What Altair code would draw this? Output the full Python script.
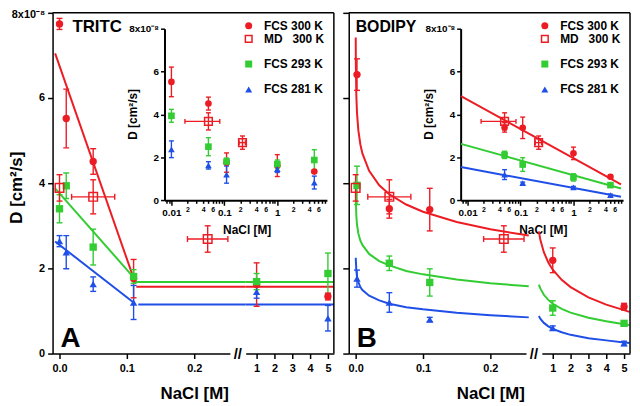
import json
import altair as alt
import pandas as pd

RED = "#ec1c24"
GREEN = "#33cc33"
BLUE = "#1f4fe6"
FONT = "Liberation Sans"

# ---------------- data ----------------
SERIES = ["FCS 300 K", "FCS 293 K", "FCS 281 K"]
LEGEND_LABELS = ["FCS 300 K", "MD\u00a0\u00a0\u00a0300 K", "FCS 293 K", "FCS 281 K"]
PANEL_NAMES = ["TRITC", "BODIPY"]
PANEL_LETTERS = ["A", "B"]

# Panel A (TRITC), D in 1e-8 cm^2/s
A_X = [0.0, 0.01, 0.05, 0.11, 1.0, 5.0]
A_RED = [7.74, 5.52, 4.51, 1.76, 1.62, 1.34]
A_RED_ERR = [0.13, 0.69, 0.30, 0.45, 0.51, 0.08]
A_GREEN = [3.40, 3.94, 2.50, 1.81, 1.69, 1.88]
A_GREEN_ERR = [0.33, 0.30, 0.42, 0.16, 0.19, 0.48]
A_BLUE = [2.64, 2.38, 1.63, 1.20, 1.45, 0.83]
A_BLUE_ERR = [0.13, 0.39, 0.17, 0.40, 0.15, 0.30]
A_FIT_X = [-0.0065, 0.11]
A_FIT_RED = [7.05, 1.77]
A_FIT_GREEN = [3.88, 1.79]
A_FIT_BLUE = [2.63, 1.20]
A_PLATEAU_START = [0.114, 0.109, 0.117]
A_PLATEAU_LEVEL = [1.57, 1.68, 1.15]

# Panel B (BODIPY)
B_X = [0.002, 0.05, 0.11, 1.0, 5.0]
B_RED = [6.55, 3.40, 3.38, 2.19, 1.10]
B_RED_ERR = [0.37, 0.22, 0.50, 0.29, 0.08]
B_GREEN = [3.95, 2.12, 1.67, 1.07, 0.71]
B_GREEN_ERR = [0.45, 0.17, 0.32, 0.17, 0.05]
B_BLUE = [1.76, 1.20, 0.80, 0.60, 0.24]
B_BLUE_ERR = [0.20, 0.23, 0.05, 0.05, 0.05]

B_CURVE_X1 = [0.0001, 0.0003, 0.001, 0.002, 0.004, 0.007, 0.01, 0.02, 0.035, 0.05, 0.075, 0.1, 0.15, 0.2, 0.257]
B_CURVE_RED1 = [7.42, 6.77, 6.06, 5.65, 5.24, 4.91, 4.70, 4.29, 3.95, 3.74, 3.50, 3.33, 3.09, 2.92, 2.77]
B_CURVE_GREEN1 = [3.95, 3.59, 3.23, 3.03, 2.82, 2.65, 2.55, 2.34, 2.17, 2.07, 1.94, 1.86, 1.74, 1.65, 1.58]
B_CURVE_BLUE1 = [2.25, 2.19, 1.95, 1.81, 1.68, 1.56, 1.49, 1.36, 1.25, 1.17, 1.09, 1.04, 0.96, 0.90, 0.85]
B_CURVE_X2 = [0.222, 0.3, 0.5, 0.75, 1.0, 1.5, 2.0, 3.0, 4.0, 5.0, 5.3]
B_CURVE_RED2 = [2.87, 2.68, 2.38, 2.14, 1.97, 1.73, 1.56, 1.32, 1.15, 1.02, 0.98]
B_CURVE_GREEN2 = [1.62, 1.53, 1.38, 1.26, 1.17, 1.05, 0.96, 0.84, 0.76, 0.69, 0.67]
B_CURVE_BLUE2 = [0.88, 0.82, 0.72, 0.64, 0.58, 0.50, 0.44, 0.36, 0.31, 0.26, 0.25]
B_INSET_FIT_X = [0.0075, 7.9]
B_INSET_FIT_RED = [4.86, 0.74]
B_INSET_FIT_GREEN = [2.63, 0.55]
B_INSET_FIT_BLUE = [1.55, 0.17]

# MD 300 K (same in both panels)
MD_X = [0.0, 0.05, 0.22]
MD_Y = [3.89, 3.68, 2.69]
MD_YERR = [0.31, 0.40, 0.31]
MD_XERR = [0.0, 0.032, 0.030]

# tick values / labels
MAIN_Y_TICKS = [0, 2, 4, 6, 8]
SEG1_TICKS = [0.0, 0.1, 0.2]
SEG2_TICKS = [1, 2, 3, 4, 5]
INSET_TICKS = [0.008, 0.009,
               0.01, 0.02, 0.03, 0.04, 0.05, 0.06, 0.07, 0.08, 0.09,
               0.1, 0.2, 0.3, 0.4, 0.5, 0.6, 0.7, 0.8, 0.9,
               1, 2, 3, 4, 5, 6, 7, 8]
INSET_TICK_LABELS = ["", "",
                     "0.01", "2", "", "4", "", "6", "", "", "",
                     "0.1", "2", "", "4", "", "6", "", "", "",
                     "1", "2", "", "4", "", "6", "", ""]
TOP_LABEL = "8x10\u207b\u2078"

# ---------------- layout ----------------
W, H = 583, 344
DX = [0, 299]
X1_ZERO_PX, PX_PER_X1 = 7.0, 680.0
SEG1_PX = (0.0, 179.0)
X2_ONE_PX, PX_PER_X2 = 206.0, 18.0
SEG2_PX = (195.0, 284.0)
INSET_X_PX = (113.0, 277.0)
INSET_XDOM = [0.0074, 8.66]
INSET_Y_PX = [189.3, 16.0]


def seg1_val(px):
    return (px - X1_ZERO_PX) / PX_PER_X1


def seg2_val(px):
    return 1 + (px - X2_ONE_PX) / PX_PER_X2


SEG1_DOM = [seg1_val(SEG1_PX[0]), seg1_val(SEG1_PX[1])]
SEG2_DOM = [seg2_val(SEG2_PX[0]), seg2_val(SEG2_PX[1])]

COLOR = alt.Color("series:N", scale=alt.Scale(domain=SERIES, range=[RED, GREEN, BLUE]), legend=None)
SHAPE = alt.Shape("series:N", scale=alt.Scale(domain=SERIES, range=["circle", "square", "triangle-up"]), legend=None)
Y_MAIN = alt.Scale(domain=[0, 8], range=[H, 0], nice=False, zero=True)
Y_INSET = alt.Scale(domain=[0, 8], range=INSET_Y_PX, nice=False, zero=True)
ONE = pd.DataFrame({"k": [0]})


def points_frame(x, values, errors, keep):
    rows = []
    for name, ys, es in zip(SERIES, values, errors):
        for xi, yi, ei in zip(x, ys, es):
            if keep(xi):
                rows.append(dict(series=name, x=xi, y=yi, lo=yi - ei, hi=yi + ei))
    return pd.DataFrame(rows)


def md_frame(keep):
    rows = []
    for xi, yi, ye, xe in zip(MD_X, MD_Y, MD_YERR, MD_XERR):
        if keep(xi):
            rows.append(dict(x=xi, y=yi, lo=yi - ye, hi=yi + ye, xlo=xi - xe, xhi=xi + xe, xerr=xe))
    return pd.DataFrame(rows)


def lines_frame(parts):
    rows = []
    for series, key, xs, ys in parts:
        for i, (xi, yi) in enumerate(zip(xs, ys)):
            rows.append(dict(series=series, part=f"{series}-{key}", i=i, x=xi, y=yi))
    return pd.DataFrame(rows)


def data_group(xs, ys, xaxis, yaxis, lines=None, pts=None, md=None,
               psize=55, capw=6, mdsize=75, lw=2.0):
    charts = []

    def xy(xf, yf):
        # every layer of a group carries the same axis definition so they merge
        return (alt.X(xf, type="quantitative", scale=xs, axis=xaxis),
                alt.Y(yf, type="quantitative", scale=ys, axis=yaxis))

    if lines is not None:
        x, y = xy("x", "y")
        charts.append(alt.Chart(lines).mark_line(strokeWidth=lw).encode(
            x=x, y=y, color=COLOR, detail="part:N", order="i:Q"))
    if pts is not None:
        x, y = xy("x", "lo")
        charts.append(alt.Chart(pts).mark_rule(strokeWidth=1.4).encode(
            x=x, y=y, y2="hi:Q", color=COLOR))
        caps = pts.melt(id_vars=["series", "x"], value_vars=["lo", "hi"], value_name="cap")
        x, y = xy("x", "cap")
        charts.append(alt.Chart(caps).mark_tick(orient="horizontal", size=capw, thickness=1.4, opacity=1).encode(
            x=x, y=y, color=COLOR))
    if md is not None:
        x, y = xy("x", "lo")
        charts.append(alt.Chart(md).mark_rule(strokeWidth=1.4, color=RED).encode(x=x, y=y, y2="hi:Q"))
        mcaps = md.melt(id_vars=["x"], value_vars=["lo", "hi"], value_name="cap")
        x, y = xy("x", "cap")
        charts.append(alt.Chart(mcaps).mark_tick(orient="horizontal", size=capw, thickness=1.4,
                                                 opacity=1, color=RED).encode(x=x, y=y))
        mh = md[md["xerr"] > 0]
        if len(mh):
            x, y = xy("xlo", "y")
            charts.append(alt.Chart(mh).mark_rule(strokeWidth=1.4, color=RED).encode(x=x, x2="xhi:Q", y=y))
            hcaps = mh.melt(id_vars=["y"], value_vars=["xlo", "xhi"], value_name="capx")
            x, y = xy("capx", "y")
            charts.append(alt.Chart(hcaps).mark_tick(orient="vertical", size=capw, thickness=1.4,
                                                     opacity=1, color=RED).encode(x=x, y=y))
    if pts is not None:
        x, y = xy("x", "y")
        charts.append(alt.Chart(pts).mark_point(filled=True, size=psize, opacity=1, strokeWidth=0).encode(
            x=x, y=y, color=COLOR, shape=SHAPE))
    if md is not None:
        x, y = xy("x", "y")
        charts.append(alt.Chart(md).mark_point(shape="square", filled=False, size=mdsize, strokeWidth=1.5,
                                               opacity=1, color=RED).encode(x=x, y=y))
    return alt.layer(*charts)


def text_layer(txt, x, y, size, align="left", baseline="middle"):
    return alt.Chart(ONE).mark_text(text=txt, font=FONT, fontSize=size, fontWeight="bold", align=align,
                                    baseline=baseline, color="black").encode(x=alt.value(x), y=alt.value(y))


MAJOR_TEST = "datum.value == 0.01 || datum.value == 0.1 || datum.value == 1"
INSET_LABEL_EXPR = f"{json.dumps(INSET_TICK_LABELS)}[indexof({json.dumps(INSET_TICKS)}, datum.value)]"
TOP_LABEL_EXPR = f"datum.value == 8 ? '{TOP_LABEL}' : datum.label"
TOP_OFFSET = {"condition": {"test": "datum.value == 8", "value": 2}, "value": 0}


def panel(p):
    dx = DX[p]
    layers = []
    xs1 = alt.Scale(domain=SEG1_DOM, range=[dx + SEG1_PX[0], dx + SEG1_PX[1]], nice=False, zero=False)
    xs2 = alt.Scale(domain=SEG2_DOM, range=[dx + SEG2_PX[0], dx + SEG2_PX[1]], nice=False, zero=False)
    xsi = alt.Scale(type="log", domain=INSET_XDOM, range=[dx + INSET_X_PX[0], dx + INSET_X_PX[1]], nice=False)

    x1_axis = alt.Axis(orient="bottom", values=SEG1_TICKS, format=".1f", tickSize=5, labelPadding=4,
                       labelFontSize=11, labelFlush=False, labelOverlap=False,
                       title="NaCl [M]", titleFontSize=17, titleX=dx + 143, titleY=40,
                       titleAlign="center", titleBaseline="middle")
    x2_axis = alt.Axis(orient="bottom", values=SEG2_TICKS, format="d", tickSize=5, labelPadding=4,
                       labelFontSize=11, labelFlush=False, labelOverlap=False, title=None)
    if p == 0:
        y_axis = alt.Axis(orient="left", values=MAIN_Y_TICKS, labelExpr=TOP_LABEL_EXPR, tickSize=5,
                          labelPadding=3, labelFontSize=11, labelFlush=False, labelOverlap=False,
                          labelOffset=TOP_OFFSET,
                          title="D [cm\u00b2/s]", titleFontSize=17, titleX=-36, titleY=176, titleAngle=270,
                          titleAlign="center", titleBaseline="middle")
    else:
        y_axis = alt.Axis(orient="left", offset=-dx, values=MAIN_Y_TICKS, labels=False, tickSize=6, title=None)

    xi_axis = alt.Axis(orient="bottom", offset=-(H - INSET_Y_PX[0]), values=INSET_TICKS,
                       labelExpr=INSET_LABEL_EXPR,
                       labelFontSize={"condition": {"test": MAJOR_TEST, "value": 10}, "value": 7},
                       tickSize={"condition": {"test": MAJOR_TEST, "value": 5}, "value": 3},
                       labelPadding=2, domainWidth=2, labelFlush=False, labelOverlap=False,
                       title="NaCl [M]", titleFontSize=12, titleX=dx + 196, titleY=29,
                       titleAlign="center", titleBaseline="middle")
    yi_axis = alt.Axis(orient="left", offset=-(dx + INSET_X_PX[0]), values=MAIN_Y_TICKS,
                       labelExpr=TOP_LABEL_EXPR, labelFontSize=10, tickSize=4, labelPadding=2, domainWidth=2,
                       labelFlush=False, labelOverlap=False,
                       title="D [cm\u00b2/s]", titleFontSize=12, titleX=-32, titleY=102, titleAngle=270,
                       titleAlign="center", titleBaseline="middle")

    seg1 = lambda v: v < 0.3
    seg2 = lambda v: v >= 0.5
    ins = lambda v: v >= 0.005
    if p == 0:
        vals, errs = [A_RED, A_GREEN, A_BLUE], [A_RED_ERR, A_GREEN_ERR, A_BLUE_ERR]
        xv = A_X
        ext1 = seg1_val(SEG2_PX[0])
        fits = [A_FIT_RED, A_FIT_GREEN, A_FIT_BLUE]
        l1 = lines_frame([(s, "fit", A_FIT_X, f) for s, f in zip(SERIES, fits)] +
                         [(s, "plat", [x0, ext1], [lv, lv])
                          for s, x0, lv in zip(SERIES, A_PLATEAU_START, A_PLATEAU_LEVEL)])
        l2 = lines_frame([(s, "plat", [SEG2_DOM[0], SEG2_DOM[1]], [lv, lv])
                          for s, lv in zip(SERIES, A_PLATEAU_LEVEL)])
        li = None
    else:
        vals, errs = [B_RED, B_GREEN, B_BLUE], [B_RED_ERR, B_GREEN_ERR, B_BLUE_ERR]
        xv = B_X
        l1 = lines_frame([(s, "c1", B_CURVE_X1, c) for s, c in
                          zip(SERIES, [B_CURVE_RED1, B_CURVE_GREEN1, B_CURVE_BLUE1])])
        l2 = lines_frame([(s, "c2", B_CURVE_X2, c) for s, c in
                          zip(SERIES, [B_CURVE_RED2, B_CURVE_GREEN2, B_CURVE_BLUE2])])
        li = lines_frame([(s, "fi", B_INSET_FIT_X, c) for s, c in
                          zip(SERIES, [B_INSET_FIT_RED, B_INSET_FIT_GREEN, B_INSET_FIT_BLUE])])

    layers.append(data_group(xs1, Y_MAIN, x1_axis, y_axis, lines=l1,
                             pts=points_frame(xv, vals, errs, seg1), md=md_frame(seg1)))
    layers.append(data_group(xs2, Y_MAIN, x2_axis, None, lines=l2,
                             pts=points_frame(xv, vals, errs, seg2)))
    layers.append(data_group(xsi, Y_INSET, xi_axis, yi_axis, lines=li,
                             pts=points_frame(xv, vals, errs, ins), md=md_frame(lambda v: v > 0),
                             psize=45, capw=5, mdsize=60))

    # frame (top and right)
    layers.append(alt.Chart(ONE).mark_rule(strokeWidth=1.5, color="black").encode(
        x=alt.value(dx), x2=alt.value(dx + 284), y=alt.value(0)))
    layers.append(alt.Chart(ONE).mark_rule(strokeWidth=1.5, color="black").encode(
        x=alt.value(dx + 284), y=alt.value(0), y2=alt.value(H)))
    # axis break
    layers.append(text_layer("//", dx + 187, H, 15, align="center"))
    # labels
    layers.append(text_layer(PANEL_NAMES[p], dx + (20 if p == 0 else 7), 14, 17 if p == 0 else 16))
    layers.append(text_layer(PANEL_LETTERS[p], dx + 8, 337, 28, baseline="alphabetic"))
    # legend
    leg_y = [13, 26.3, 51.7, 77.3]
    leg_sym = [("circle", RED, True), ("square", RED, False), ("square", GREEN, True), ("triangle-up", BLUE, True)]
    for lab, yy, (shp, col, fil) in zip(LEGEND_LABELS, leg_y, leg_sym):
        layers.append(alt.Chart(ONE).mark_point(shape=shp, color=col, filled=fil, size=50 if fil else 45,
                                                opacity=1, strokeWidth=1.5).encode(
            x=alt.value(dx + 198), y=alt.value(yy)))
        layers.append(text_layer(lab, dx + 213.5, yy, 12))
    return layers


chart = alt.layer(*(panel(0) + panel(1))).resolve_scale(
    x="independent", y="independent"
).properties(
    width=W, height=H,
    autosize=alt.AutoSizeParams(type="none"),
    padding={"left": 45, "top": 3, "right": 2, "bottom": 47},
).configure(font=FONT).configure_view(stroke=None).configure_axis(
    grid=False, domainColor="black", tickColor="black", labelColor="black", titleColor="black",
    labelFont=FONT, titleFont=FONT, labelFontWeight="bold", titleFontWeight="bold",
    domainWidth=1.5, tickWidth=1.5,
)

chart.save("out.html", embed_options={"renderer": "svg", "actions": False})
